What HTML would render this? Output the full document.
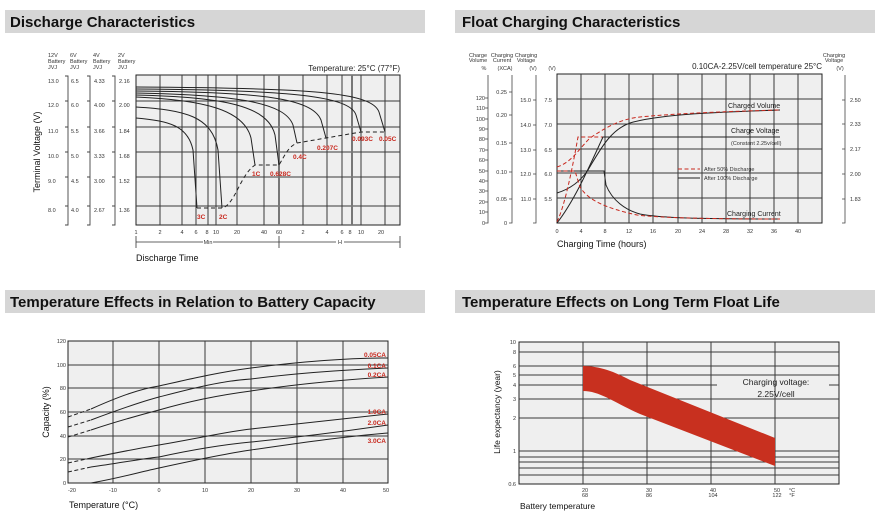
<!DOCTYPE html>
<html><head><meta charset="utf-8"><style>
html,body{margin:0;padding:0;background:#fff;}
svg{display:block;font-family:"Liberation Sans",Arial,sans-serif;}
.t{font-weight:bold;font-size:15px;fill:#111}
.s{font-size:5.5px;fill:#333}
.r{font-size:6.5px;fill:#c8281e;font-weight:bold}
.g{stroke:#3a3a3a;stroke-width:1;fill:none}
.c{stroke:#222;stroke-width:1;fill:none}
</style></head><body>
<svg width="880" height="523" viewBox="0 0 880 523" xmlns="http://www.w3.org/2000/svg">
<!-- title bars -->
<rect x="5" y="10" width="420" height="23" fill="#d6d6d6"/>
<rect x="455" y="10" width="420" height="23" fill="#d6d6d6"/>
<rect x="5" y="290" width="420" height="23" fill="#d6d6d6"/>
<rect x="455" y="290" width="420" height="23" fill="#d6d6d6"/>
<text class="t" x="10" y="27">Discharge Characteristics</text>
<text class="t" x="462" y="27">Float Charging Characteristics</text>
<text class="t" x="10" y="307">Temperature Effects in Relation to Battery Capacity</text>
<text class="t" x="462" y="307">Temperature Effects on Long Term Float Life</text>

<!-- ============ DISCHARGE ============ -->
<rect x="136" y="75" width="264" height="150" fill="#efefef" stroke="#222"/>
<g class="g">
<path d="M136,101H400M136,127H400M136,152H400M136,177H400M136,206H400"/>
<path d="M160,75V225M182,75V225M196,75V225M208,75V225M216,75V225M237,75V225M264,75V225M303,75V225M327,75V225M342,75V225M361,75V225M385,75V225"/>
<path d="M279,75V225M352,75V225" stroke="#777" stroke-width="2"/>
</g>
<g class="c">
<path d="M136,118 C170,121 188,126 193,150 L197,208"/>
<path d="M136,107 C185,110 212,116 218,150 L222,208"/>
<path d="M136,97 C205,100 244,110 251,138 L255,165"/>
<path d="M136,95 C225,97 268,106 275,135 L279,165"/>
<path d="M136,93 C240,95 285,103 293,125 L297,143"/>
<path d="M136,91 C260,92 312,98 321,120 L326,138"/>
<path d="M136,89 C290,90 350,96 356,115 L361,132"/>
<path d="M136,87 C310,88 372,92 379,112 L385,132"/>
<path d="M197,208 L222,208 C235,205 240,175 255,165 L279,165 C285,155 288,147 297,143 L326,138 L361,132 L385,132" stroke-dasharray="4,3"/>
</g>
<g class="r">
<text x="197" y="219">3C</text><text x="219" y="219">2C</text>
<text x="252" y="176">1C</text><text x="270" y="176">0.628C</text>
<text x="293" y="159">0.4C</text><text x="317" y="150">0.207C</text>
<text x="352" y="141">0.093C</text><text x="379" y="141">0.05C</text>
</g>
<text x="400" y="71" font-size="8" text-anchor="end" fill="#222">Temperature: 25°C (77°F)</text>
<g class="s" text-anchor="middle">
<text x="136" y="234">1</text><text x="160" y="234">2</text><text x="182" y="234">4</text><text x="196" y="234">6</text><text x="207" y="234">8</text><text x="216" y="234">10</text><text x="237" y="234">20</text><text x="264" y="234">40</text><text x="279" y="234">60</text><text x="303" y="234">2</text><text x="327" y="234">4</text><text x="342" y="234">6</text><text x="350" y="234">8</text><text x="361" y="234">10</text><text x="381" y="234">20</text>
<text x="208" y="244">Min</text><text x="340" y="244">H</text>
</g>
<path d="M136,236V248M279,236V248M400,236V248M136,242H203M213,242H336M344,242H400" stroke="#333" stroke-width="0.8"/>
<text x="136" y="261" font-size="9" fill="#111">Discharge Time</text>
<text transform="translate(40,152) rotate(-90)" font-size="9" text-anchor="middle" fill="#111">Terminal Voltage (V)</text>
<g class="s">
<text x="48" y="57">12V</text><text x="48" y="63">Battery</text><text x="48" y="69">JVJ</text>
<text x="70" y="57">6V</text><text x="70" y="63">Battery</text><text x="70" y="69">JVJ</text>
<text x="93" y="57">4V</text><text x="93" y="63">Battery</text><text x="93" y="69">JVJ</text>
<text x="118" y="57">2V</text><text x="118" y="63">Battery</text><text x="118" y="69">JVJ</text>
<text x="48" y="83">13.0</text><text x="48" y="107">12.0</text><text x="48" y="133">11.0</text><text x="48" y="158">10.0</text><text x="48" y="183">9.0</text><text x="48" y="212">8.0</text>
<text x="71" y="83">6.5</text><text x="71" y="107">6.0</text><text x="71" y="133">5.5</text><text x="71" y="158">5.0</text><text x="71" y="183">4.5</text><text x="71" y="212">4.0</text>
<text x="94" y="83">4.33</text><text x="94" y="107">4.00</text><text x="94" y="133">3.66</text><text x="94" y="158">3.33</text><text x="94" y="183">3.00</text><text x="94" y="212">2.67</text>
<text x="119" y="83">2.16</text><text x="119" y="107">2.00</text><text x="119" y="133">1.84</text><text x="119" y="158">1.68</text><text x="119" y="183">1.52</text><text x="119" y="212">1.36</text>
</g>
<path d="M65,76H68V225H65M65,101H68M65,127H68M65,152H68M65,177H68M65,206H68 M87,76H90V225H87M87,101H90M87,127H90M87,152H90M87,177H90M87,206H90 M112,76H115V225H112M112,101H115M112,127H115M112,152H115M112,177H115M112,206H115" stroke="#444" fill="none" stroke-width="0.9"/>

<!-- ============ FLOAT CHARGING ============ -->
<rect x="557" y="74" width="265" height="149" fill="#efefef" stroke="#222"/>
<g class="g">
<path d="M557,99H822M557,124H822M557,149H822M557,173H822M557,198H822"/>
<path d="M581,74V223M605,74V223M629,74V223M653,74V223M678,74V223M702,74V223M726,74V223M750,74V223M774,74V223M798,74V223"/>
</g>
<g fill="none" stroke-width="1">
<path d="M557,193 C570,189 580,182 588,170 C600,150 610,130 630,123 C660,114 720,112 780,110" stroke="#222"/>
<path d="M557,167 C572,162 578,150 590,138 C605,128 620,119 640,117 C680,113 740,111 780,110" stroke="#c8281e" stroke-dasharray="4,2.5"/>
<path d="M557,222 C565,205 572,170 578,137 L695,137" stroke="#c8281e" stroke-dasharray="4,2.5"/>
<path d="M557,223 C575,200 590,165 603,137 L780,137" stroke="#222"/>
<path d="M557,171 L604,171 L606,185 C612,200 625,210 640,214 C660,218 700,219 780,219" stroke="#222"/>
<path d="M557,171 L575,171 L580,187 C588,200 605,208 637,215 C660,218 720,219 780,219" stroke="#c8281e" stroke-dasharray="4,2.5"/>
<path d="M678,169H700" stroke="#c8281e" stroke-dasharray="4,2.5"/>
<path d="M678,178H700" stroke="#222"/>
</g>
<g class="s">
<text x="704" y="171">After  50% Discharge</text>
<text x="704" y="180">After 100% Discharge</text>
<text x="731" y="145">(Constant 2.25v/cell)</text>
</g>
<g font-size="7" fill="#222">
<text x="728" y="108">Charged Volume</text>
<text x="731" y="133">Charge Voltage</text>
<text x="727" y="216">Charging Current</text>
</g>
<text x="822" y="69" font-size="8" text-anchor="end" fill="#222">0.10CA-2.25V/cell  temperature 25°C</text>
<g class="s" text-anchor="middle">
<text x="557" y="233">0</text><text x="581" y="233">4</text><text x="605" y="233">8</text><text x="629" y="233">12</text><text x="653" y="233">16</text><text x="678" y="233">20</text><text x="702" y="233">24</text><text x="726" y="233">28</text><text x="750" y="233">32</text><text x="774" y="233">36</text><text x="798" y="233">40</text>
<text x="478" y="57">Charge</text><text x="478" y="62">Volume</text><text x="484" y="70">%</text>
<text x="502" y="57">Charging</text><text x="502" y="62">Current</text><text x="505" y="70">(XCA)</text>
<text x="526" y="57">Charging</text><text x="526" y="62">Voltage</text><text x="533" y="70">(V)</text>
<text x="552" y="70">(V)</text>
<text x="834" y="57">Charging</text><text x="834" y="62">Voltage</text><text x="840" y="70">(V)</text>
</g>
<text x="557" y="247" font-size="9" fill="#111">Charging Time (hours)</text>
<g class="s" text-anchor="end">
<text x="485" y="100">120</text><text x="485" y="110">110</text><text x="485" y="121">100</text><text x="485" y="131">90</text><text x="485" y="141">80</text><text x="485" y="152">70</text><text x="485" y="162">60</text><text x="485" y="173">50</text><text x="485" y="183">40</text><text x="485" y="193">30</text><text x="485" y="204">20</text><text x="485" y="214">10</text><text x="485" y="225">0</text>
<text x="507" y="94">0.25</text><text x="507" y="117">0.20</text><text x="507" y="145">0.15</text><text x="507" y="174">0.10</text><text x="507" y="201">0.05</text><text x="507" y="225">0</text>
<text x="531" y="102">15.0</text><text x="531" y="127">14.0</text><text x="531" y="152">13.0</text><text x="531" y="176">12.0</text><text x="531" y="201">11.0</text>
<text x="552" y="102">7.5</text><text x="552" y="127">7.0</text><text x="552" y="152">6.5</text><text x="552" y="176">6.0</text><text x="552" y="201">5.5</text>
</g>
<g class="s">
<text x="850" y="102">2.50</text><text x="850" y="126">2.33</text><text x="850" y="151">2.17</text><text x="850" y="176">2.00</text><text x="850" y="201">1.83</text>
</g>
<path d="M488,75V223H485M485,98H488M485,108H488M485,119H488M485,129H488M485,139H488M485,150H488M485,160H488M485,171H488M485,181H488M485,191H488M485,202H488M485,212H488
M512,75V223H509M509,92H512M509,115H512M509,143H512M509,172H512M509,199H512
M536,75V223H533M533,100H536M533,125H536M533,150H536M533,174H536M533,199H536
M845,75V223H842M842,100H845M842,124H845M842,149H845M842,174H845M842,199H845" stroke="#444" fill="none" stroke-width="0.8"/>

<!-- ============ TEMP CAPACITY ============ -->
<rect x="68" y="341" width="320" height="142" fill="#efefef" stroke="#222"/>
<g class="g">
<path d="M68,365H388M68,388H388M68,412H388M68,436H388M68,459H388"/>
<path d="M113,341V483M159,341V483M205,341V483M251,341V483M297,341V483M343,341V483"/>
</g>
<g class="c" stroke-width="1.1">
<path d="M91,409 C120,396 140,389 159,386 C190,379 220,372 251,368 C290,363 340,358 388,358"/>
<path d="M91,420 C115,411 140,402 159,397 C190,389 220,381 251,379 C290,374 340,370 388,368"/>
<path d="M91,430 C115,422 140,415 159,410 C190,401 220,395 251,391 C290,385 340,380 388,377"/>
<path d="M91,458 C120,452 140,448 159,445 C200,438 230,431 251,429 C300,424 340,419 388,414"/>
<path d="M91,467 C120,463 140,459 159,457 C200,448 230,444 251,442 C300,437 340,432 388,425"/>
<path d="M91,483 C120,478 140,472 159,468 C200,459 230,453 251,450 C300,443 340,437 388,433"/>
</g>
<g class="c" stroke-dasharray="4,2.5">
<path d="M68,417 L91,409"/><path d="M68,427 L91,420"/><path d="M68,437 L91,430"/>
<path d="M68,463 L91,458"/><path d="M68,472 L91,467"/>
</g>
<g class="r" text-anchor="end">
<text x="386" y="357">0.05CA</text><text x="386" y="368">0.1CA</text><text x="386" y="377">0.2CA</text>
<text x="386" y="414">1.0CA</text><text x="386" y="425">2.0CA</text><text x="386" y="443">3.0CA</text>
</g>
<g class="s" text-anchor="end">
<text x="66" y="343">120</text><text x="66" y="367">100</text><text x="66" y="390">80</text><text x="66" y="414">60</text><text x="66" y="438">40</text><text x="66" y="461">20</text><text x="66" y="485">0</text>
</g>
<g class="s" text-anchor="middle">
<text x="72" y="492">-20</text><text x="113" y="492">-10</text><text x="159" y="492">0</text><text x="205" y="492">10</text><text x="251" y="492">20</text><text x="297" y="492">30</text><text x="343" y="492">40</text><text x="386" y="492">50</text>
</g>
<text x="69" y="508" font-size="9" fill="#111">Temperature (°C)</text>
<text transform="translate(49,412) rotate(-90)" font-size="9" text-anchor="middle" fill="#111">Capacity (%)</text>

<!-- ============ LIFE ============ -->
<rect x="519" y="342" width="320" height="142" fill="#efefef" stroke="#222"/>
<g class="g">
<path d="M519,352H839M519,366H839M519,375H839M519,385H717M829,385H839M519,399H839M519,418H839M519,451H839M519,457H839M519,462H839M519,468H839M519,475H839"/>
<path d="M583,342V484M647,342V484M711,342V484M775,342V484"/>
</g>
<path d="M583,366 C600,366 615,372 630,380 L775,438 L775,466 L640,414 C615,403 600,391 583,391 Z" fill="#c8301f"/>
<g font-size="8.5" fill="#222" text-anchor="middle">
<text x="776" y="385">Charging voltage:</text><text x="776" y="397">2.25V/cell</text>
</g>
<g class="s" text-anchor="end">
<text x="516" y="344">10</text><text x="516" y="354">8</text><text x="516" y="368">6</text><text x="516" y="377">5</text><text x="516" y="387">4</text><text x="516" y="401">3</text><text x="516" y="420">2</text><text x="516" y="453">1</text><text x="516" y="486">0.6</text>
</g>
<g class="s" text-anchor="middle">
<text x="585" y="492">20</text><text x="585" y="497">68</text>
<text x="649" y="492">30</text><text x="649" y="497">86</text>
<text x="713" y="492">40</text><text x="713" y="497">104</text>
<text x="777" y="492">50</text><text x="777" y="497">122</text>
<text x="792" y="492">°C</text><text x="792" y="497">°F</text>
</g>
<text x="520" y="509" font-size="8.5" fill="#111">Battery temperature</text>
<text transform="translate(500,412) rotate(-90)" font-size="8.5" text-anchor="middle" fill="#111">Life expectancy (year)</text>
</svg>
</body></html>
